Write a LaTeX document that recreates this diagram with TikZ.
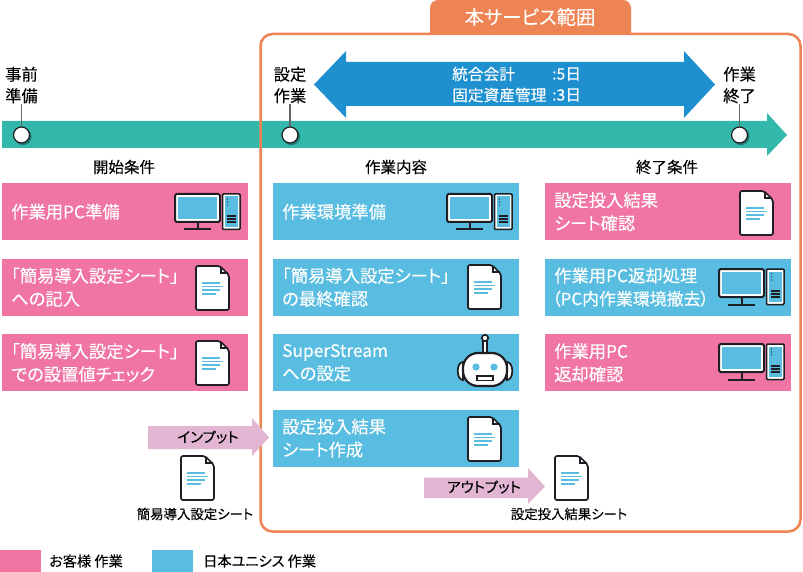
\documentclass[tikz,border=0pt]{standalone}
\usepackage{fontspec}
\setmainfont[RawFeature={+palt}, FakeBold=0.12]{Noto Sans CJK JP}
\usetikzlibrary{calc, positioning}
\definecolor{cpink}{HTML}{F075A3}
\definecolor{cblue}{HTML}{58BDE0}
\definecolor{cdeep}{HTML}{1E90D0}
\definecolor{cteal}{HTML}{33B8AB}
\definecolor{corange}{HTML}{EE8353}
\definecolor{cmauve}{HTML}{E2B5D3}
\definecolor{cink}{HTML}{1E1E24}

\begin{document}
\begin{tikzpicture}[x=1pt, y=-1pt,% one unit is one pixel of the image, y runs down
 task/.style = {anchor=north west, minimum width=246pt, minimum height=57pt,
                text width=228pt, inner xsep=9pt, inner ysep=0pt, align=left,
                text=white, font=\fontsize{17.3}{23}\selectfont},
 pinkbox/.style = {task, fill=cpink},
 bluebox/.style = {task, fill=cblue},
 head/.style = {font=\fontsize{15.5}{22}\selectfont, inner sep=0pt},
 stage/.style = {font=\fontsize{16.3}{21.5}\selectfont, align=center, inner sep=1pt},
 small/.style = {font=\fontsize{13.4}{16}\selectfont, inner sep=0pt},
 tag/.style = {inner sep=0pt, font=\fontsize{14.5}{16}\selectfont},
 key/.style = {anchor=west, inner sep=0pt, font=\fontsize{14.2}{16}\selectfont},
 days/.style = {anchor=west, text=white, inner sep=0pt,
                font=\fontsize{15.7}{20}\selectfont},
 point/.style = {circle, draw=cink, line width=1.2pt, fill=white,
                 minimum size=16pt, inner sep=0pt},
 doc/.pic = {% file with a folded corner
   \draw[cink, line width=1.7pt, fill=white, rounded corners=2pt]
     (0,0) -- (24,0) -- (33,9) -- (33,44) -- (0,44) -- cycle;
   \draw[cink, line width=1.3pt] (25,1) -- (25,7) -- (32,7);
   \foreach \y/\e in {17/24, 20.5/27, 24/24, 28/20}
     \draw[cblue, line width=1.2pt] (6,\y) -- (\e,\y);
 },
 pc/.pic = {% monitor and tower
   \draw[cink, line width=2pt, fill=white, rounded corners=1.5pt] (0,0) rectangle (45,28);
   \fill[cblue] (3,3) rectangle (42,25);
   \draw[cink, line width=2pt] (22.5,28) -- (22.5,35) (9,35.5) -- (36,35.5);
   \draw[cink, line width=1.5pt, fill=white, rounded corners=1pt] (47.5,0) rectangle (65,35.5);
   \fill[cblue] (50,2.5) rectangle (62.5,33);
   \foreach \y in {5,8,11} \fill[cink] (52.5,\y) circle (.6);
   \foreach \y in {22,25,28} \draw[cink, line width=1.1pt] (52,\y) -- (61,\y);
 },
 bot/.pic = {% robot head
   \draw[cink, line width=1.7pt, fill=white] (0,-15) circle (3.2);
   \draw[cink, line width=1.7pt, fill=white] (-2,-11.8) rectangle (2,0);
   \draw[cink, line width=1.7pt, fill=white] (-22,9) .. controls (-29,9) and (-29,27) .. (-22,27) -- cycle;
   \draw[cink, line width=1.7pt, fill=white] (22,9) .. controls (29,9) and (29,27) .. (22,27) -- cycle;
   \draw[cink, line width=2.2pt, fill=white, rounded corners=15pt] (-22,0) rectangle (22,33);
   \fill[cblue] (-9,14) circle (3.6) (9,14) circle (3.6);
   \draw[cink, line width=1.4pt] (-8,23) rectangle (8,27.5);
 }]
	\useasboundingbox (0,0) rectangle (803,572);

	% timeline
	\fill[cteal] (2,121) -- (767,121) -- (767,113) -- (787,135) -- (767,156) -- (767,148) -- (2,148) -- cycle;

	% service frame and its tab
	\draw[corange, line width=2.5pt, rounded corners=12pt] (260.5,34) rectangle (800.5,531.5);
	\fill[corange] (430,34) [rounded corners=8pt] -- (430,0) -- (631,0) [sharp corners] -- (631,34) -- cycle;
	\node[text=white, inner sep=0pt, font=\fontsize{19.4}{22}\selectfont] (scope) at (530,17) {本サービス範囲};

	% period arrow
	\fill[cdeep] (314,84.5) -- (346,51) -- (346,62) -- (684,62) -- (684,51) -- (715,84.5)
		-- (684,118) -- (684,106) -- (346,106) -- (346,118) -- cycle;
	\node[days] (daysA) at (452,74) {統合会計};
	\node[days] (daysB) at (452,95) {固定資産管理};
	\node[days] (valA) at (552,74) {:5日};
	\node[days] (valB) at (552,95) {:3日};

	% milestones
	\foreach \n/\x/\t in {A/21.5/事前\\準備, B/290/設定\\作業, C/739.5/作業\\終了} {
		\node[stage] (lbl\n) at (\x,85) {\t};
		\fill[black, opacity=.35] (\x+1.5,136.5) circle (8.6);
		\node[point] (pt\n) at (\x,135) {};
		\draw[gray!80!black, line width=1.2pt] (lbl\n) -- (pt\n);
	}

	% column heads
	\node[head] (headL) at (124,167) {開始条件};
	\node[head] (headM) at (396,167) {作業内容};
	\node[head] (headR) at (667,167) {終了条件};

	% left column
	\node[pinkbox] (boxL1) at (2,183) {作業用PC準備};
	\node[pinkbox] (boxL2) at (2,258.5) {「簡易導入設定シート」\\への記入};
	\node[pinkbox] (boxL3) at (2,334) {「簡易導入設定シート」\\での設置値チェック};
	\pic at (175,194) {pc};
	\pic at (196,266) {doc};
	\pic at (196,341) {doc};

	% middle column
	\node[bluebox] (boxM1) at (273,183) {作業環境準備};
	\node[bluebox] (boxM2) at (273,258.5) {「簡易導入設定シート」\\の最終確認};
	\node[bluebox] (boxM3) at (273,334) {SuperStream\\への設定};
	\node[bluebox] (boxM4) at (273,409.5) {設定投入結果\\シート作成};
	\pic at (447,194) {pc};
	\pic at (468,265) {doc};
	\pic at (485,353) {bot};
	\pic at (468,417) {doc};

	% right column
	\node[pinkbox] (boxR1) at (545,183) {設定投入結果\\シート確認};
	\node[bluebox] (boxR2) at (545,258.5) {作業用PC返却処理\\\hspace*{-2pt}{\fontsize{16.9}{23}\selectfont（PC内作業環境撤去）}};
	\node[pinkbox] (boxR3) at (545,334) {作業用PC\\返却確認};
	\pic at (740,191) {doc};
	\pic at (719,269) {pc};
	\pic at (719,344) {pc};

	% input and output
	\fill[cmauve] (148,426) -- (252,426) -- (252,418) -- (269,437.5) -- (252,456) -- (252,449) -- (148,449) -- cycle;
	\node[tag] (inLbl) at (208,437) {インプット};
	\pic at (181,456) {doc};
	\node[small] (inDoc) at (195,514) {簡易導入設定シート};

	\fill[cmauve] (424,477.5) -- (528,477.5) -- (528,468) -- (545,486.5) -- (528,504) -- (528,498) -- (424,498) -- cycle;
	\node[tag] (outLbl) at (484,487) {アウトプット};
	\pic at (555,456) {doc};
	\node[small] (outDoc) at (569,514) {設定投入結果シート};

	% legend
	\fill[cpink] (0,550) rectangle (41,572);
	\fill[cblue] (152,550) rectangle (193,572);
	\node[key] (keyA) at (49,561) {お客様\ 作業};
	\node[key] (keyB) at (203,561) {日本ユニシス\ 作業};
\end{tikzpicture}
\end{document}
